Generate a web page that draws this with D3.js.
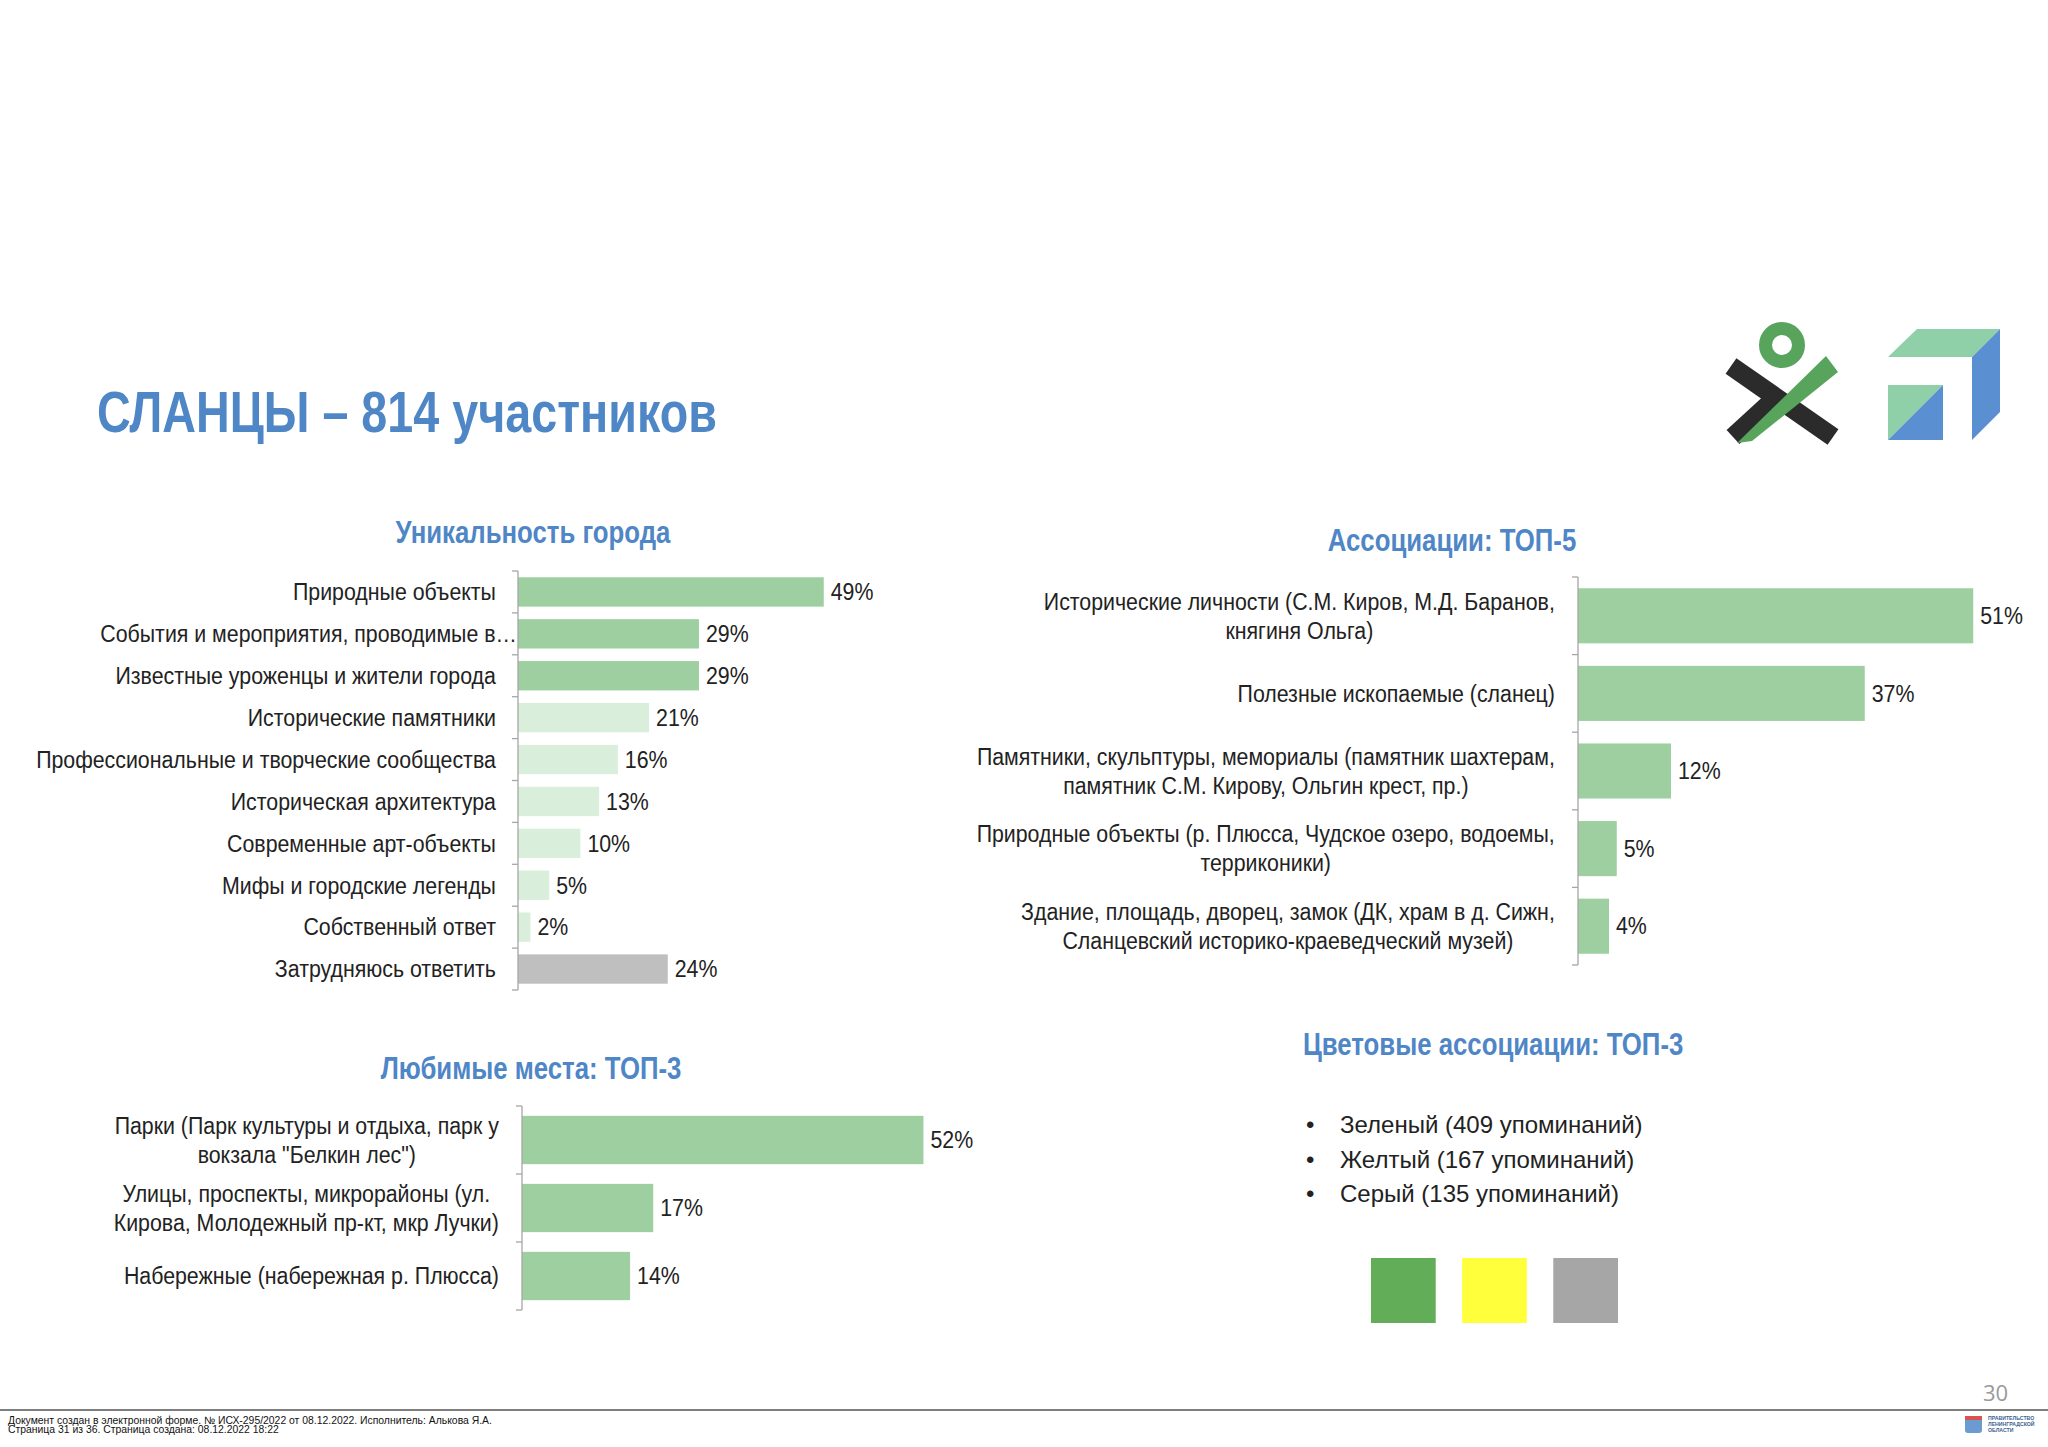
<!DOCTYPE html>
<html><head><meta charset="utf-8">
<script src="https://cdn.jsdelivr.net/npm/d3@7"></script>
<style>html,body{margin:0;padding:0;background:#fff;}svg{display:block;}</style>
</head><body>
<script>
// ---------- DATA ----------
const pageTitle = "СЛАНЦЫ – 814 участников";

const uniqTitle = "Уникальность города";
const uniqCategories = [
  "Природные объекты",
  "События и мероприятия, проводимые в…",
  "Известные уроженцы и жители города",
  "Исторические памятники",
  "Профессиональные и творческие сообщества",
  "Историческая архитектура",
  "Современные арт-объекты",
  "Мифы и городские легенды",
  "Собственный ответ",
  "Затрудняюсь ответить"
];
const uniqValues = [49, 29, 29, 21, 16, 13, 10, 5, 2, 24];
const uniqGroups = ["top","top","top","rest","rest","rest","rest","rest","rest","na"];

const assocTitle = "Ассоциации: ТОП-5";
const assocCategories = [
  "Исторические личности (С.М. Киров, М.Д. Баранов,\nкнягиня Ольга)",
  "Полезные ископаемые (сланец)",
  "Памятники, скульптуры, мемориалы (памятник шахтерам,\nпамятник С.М. Кирову, Ольгин крест, пр.)",
  "Природные объекты (р. Плюсса, Чудское озеро, водоемы,\nтерриконики)",
  "Здание, площадь, дворец, замок (ДК, храм в д. Сижн,\nСланцевский историко-краеведческий музей)"
];
const assocValues = [51, 37, 12, 5, 4];

const placesTitle = "Любимые места: ТОП-3";
const placesCategories = [
  "Парки (Парк культуры и отдыха, парк у\nвокзала \"Белкин лес\")",
  "Улицы, проспекты, микрорайоны (ул.\nКирова, Молодежный пр-кт, мкр Лучки)",
  "Набережные (набережная р. Плюсса)"
];
const placesValues = [52, 17, 14];

const colorTitle = "Цветовые ассоциации: ТОП-3";
const colorNames = ["Зеленый", "Желтый", "Серый"];
const colorMentions = [409, 167, 135];
const colorSwatches = ["#62ad57", "#ffff3b", "#a6a6a6"];

const footerLines = [
  "Документ создан в электронной форме. № ИСХ-295/2022 от 08.12.2022. Исполнитель: Алькова Я.А.",
  "Страница 31 из 36. Страница создана: 08.12.2022 18:22"
];
const pageNumber = "30";

// ---------- STYLE ----------
const W = 2048, H = 1447;
const SANS = "'Liberation Sans',Arial,sans-serif";
const BLUE = "#4f86c6";
const TEXT = "#222222";
const groupColor = {top: "#9dcfa0", rest: "#d9eedb", na: "#bfbfbf"};
const LABEL_FS = 23, CHART_TITLE_FS = 31.5, MAIN_TITLE_FS = 56.5;

const svg = d3.select("body").append("svg").attr("width", W).attr("height", H);
svg.append("rect").attr("width", W).attr("height", H).attr("fill", "#fff");

function measure(txt, fs, weight) {
  const t = svg.append("text").attr("font-family", SANS).attr("font-size", fs)
    .attr("font-weight", weight).text(txt);
  const w = t.node().getComputedTextLength();
  t.remove();
  return w;
}
const kLabel = 460 / measure("Профессиональные и творческие сообщества", LABEL_FS, "normal");
const kTitle = 275 / measure("Уникальность города", CHART_TITLE_FS, "bold");
const kMain = 620 / measure(pageTitle, MAIN_TITLE_FS, "bold");

function ctext(parent, x, y, txt, fs, k, opts = {}) {
  const g = parent.append("g").attr("transform", `translate(${x},${y}) scale(${k},1)`);
  const t = g.append("text").attr("x", 0).attr("y", 0)
    .attr("font-family", SANS).attr("font-size", fs)
    .attr("font-weight", opts.weight || "normal")
    .attr("fill", opts.fill || TEXT)
    .attr("text-anchor", opts.anchor || "start")
    .text(txt);
  if (opts.dy) t.attr("dy", opts.dy);
  return g;
}

ctext(svg, 97, 432, pageTitle, MAIN_TITLE_FS, kMain, {weight: "bold", fill: BLUE});

function barChart(o) {
  const g = svg.append("g");
  const x = d3.scaleLinear().domain([0, 100]).range([o.x0, o.x0 + o.pxPerPct * 100]);
  const y = d3.scaleBand().domain(o.cats).range([o.yTop, o.yBot])
    .paddingInner(o.pad).paddingOuter(o.pad / 2);

  ctext(g, o.titleX, o.titleY, o.title, CHART_TITLE_FS, kTitle,
    {weight: "bold", fill: BLUE, anchor: "middle"});

  g.selectAll("rect.bar").data(o.cats).join("rect").attr("class", "bar")
    .attr("x", x(0)).attr("y", d => y(d))
    .attr("width", (d, i) => x(o.vals[i]) - x(0))
    .attr("height", y.bandwidth())
    .attr("fill", (d, i) => o.colors ? o.colors[i] : groupColor.top);

  const ax = g.append("g").attr("stroke", "#a6a6a6").attr("stroke-width", 1.3);
  ax.append("line").attr("x1", x(0)).attr("x2", x(0)).attr("y1", o.yTop).attr("y2", o.yBot);
  d3.range(o.cats.length + 1).forEach(i => {
    const yy = o.yTop + i * y.step();
    ax.append("line").attr("x1", x(0) - 6).attr("x2", x(0)).attr("y1", yy).attr("y2", yy);
  });

  o.cats.forEach((c, i) => {
    ctext(g, x(o.vals[i]) + 7, y(c) + y.bandwidth() / 2, o.vals[i] + "%", LABEL_FS, kLabel,
      {dy: "0.36em"});
  });

  o.cats.forEach(c => {
    const lines = c.split("\n");
    const cy = y(c) + y.bandwidth() / 2;
    const maxW = d3.max(lines, ln => measure(ln, LABEL_FS, "normal")) * kLabel;
    // truncated (overflowing) labels run up to the axis, as in the source
    const right = c.endsWith("…") ? x(0) - 1 : o.labelRight;
    const cx = right - maxW / 2;
    lines.forEach((ln, k) => {
      ctext(g, cx, cy + (k - (lines.length - 1) / 2) * o.lineH, ln, LABEL_FS, kLabel,
        {anchor: "middle", dy: "0.36em"});
    });
  });
  return g;
}

barChart({
  title: uniqTitle, titleX: 533, titleY: 542.5,
  cats: uniqCategories, vals: uniqValues,
  colors: uniqGroups.map(gn => groupColor[gn]),
  x0: 518, pxPerPct: 6.24, yTop: 571, yBot: 990, pad: 0.3,
  labelRight: 496, lineH: 29
});

barChart({
  title: assocTitle, titleX: 1452, titleY: 551,
  cats: assocCategories, vals: assocValues,
  x0: 1578, pxPerPct: 7.75, yTop: 577, yBot: 965, pad: 0.29,
  labelRight: 1555, lineH: 29
});

barChart({
  title: placesTitle, titleX: 531, titleY: 1079,
  cats: placesCategories, vals: placesValues,
  x0: 522, pxPerPct: 7.72, yTop: 1106, yBot: 1310, pad: 0.29,
  labelRight: 499, lineH: 29
});

// ---------- colour associations ----------
const cg = svg.append("g");
ctext(cg, 1303, 1055, colorTitle, CHART_TITLE_FS, kTitle, {weight: "bold", fill: BLUE});
colorNames.forEach((n, i) => {
  const yy = 1133 + i * 34.5;
  cg.append("text").attr("x", 1306).attr("y", yy)
    .attr("font-family", SANS).attr("font-size", 24).attr("fill", TEXT).text("•");
  cg.append("text").attr("x", 1340).attr("y", yy)
    .attr("font-family", SANS).attr("font-size", 24).attr("fill", TEXT)
    .text(`${n} (${colorMentions[i]} упоминаний)`);
});
const sx = d3.scaleBand().domain(colorNames).range([1371, 1618]).paddingInner(0.29);
cg.selectAll("rect.sw").data(colorNames).join("rect").attr("class", "sw")
  .attr("x", d => sx(d)).attr("y", 1258).attr("width", sx.bandwidth()).attr("height", 65)
  .attr("fill", (d, i) => colorSwatches[i]);

// ---------- logos ----------
const lg = svg.append("g");
lg.append("circle").attr("cx", 1782).attr("cy", 345).attr("r", 16.5)
  .attr("fill", "none").attr("stroke", "#58a45c").attr("stroke-width", 13);
lg.append("line").attr("x1", 1731).attr("y1", 366).attr("x2", 1833).attr("y2", 437)
  .attr("stroke", "#2b2b2b").attr("stroke-width", 19);
lg.append("line").attr("x1", 1733).attr("y1", 437).attr("x2", 1781).attr("y2", 393)
  .attr("stroke", "#2b2b2b").attr("stroke-width", 19);
lg.append("polygon").attr("points", "1737,443 1826,356 1838,372 1752,441")
  .attr("fill", "#58a45c");
lg.append("polygon").attr("points", "1888,357 1917,329 2000,329 1972,357").attr("fill", "#8fd0a8");
lg.append("polygon").attr("points", "1972,357 2000,329 2000,412 1972,440").attr("fill", "#5a8fd2");
lg.append("polygon").attr("points", "1888,385 1943,385 1888,440").attr("fill", "#8fd0a8");
lg.append("polygon").attr("points", "1943,385 1943,440 1888,440").attr("fill", "#5a8fd2");

// ---------- footer ----------
svg.append("line").attr("x1", 0).attr("x2", W).attr("y1", 1410).attr("y2", 1410)
  .attr("stroke", "#555").attr("stroke-width", 1.5);
footerLines.forEach((t, i) => {
  svg.append("text").attr("x", 8).attr("y", 1424 + i * 9)
    .attr("font-family", SANS).attr("font-size", 10.4).attr("fill", "#111").text(t);
});
svg.append("text").attr("x", 1983).attr("y", 1401)
  .attr("font-family", "'Open Sans',sans-serif").attr("font-size", 22).attr("fill", "#9a9a9a")
  .text(pageNumber);
svg.append("rect").attr("x", 1965).attr("y", 1416).attr("width", 17).attr("height", 17)
  .attr("rx", 3).attr("fill", "#6b9bd1");
svg.append("rect").attr("x", 1965).attr("y", 1416).attr("width", 17).attr("height", 4)
  .attr("fill", "#d9534f");
["ПРАВИТЕЛЬСТВО", "ЛЕНИНГРАДСКОЙ", "ОБЛАСТИ"].forEach((t, i) => {
  svg.append("text").attr("x", 1988).attr("y", 1420 + i * 6)
    .attr("font-family", SANS).attr("font-weight", "bold").attr("font-size", 5.2)
    .attr("fill", "#3b5f8f").text(t);
});
</script>
</body></html>
